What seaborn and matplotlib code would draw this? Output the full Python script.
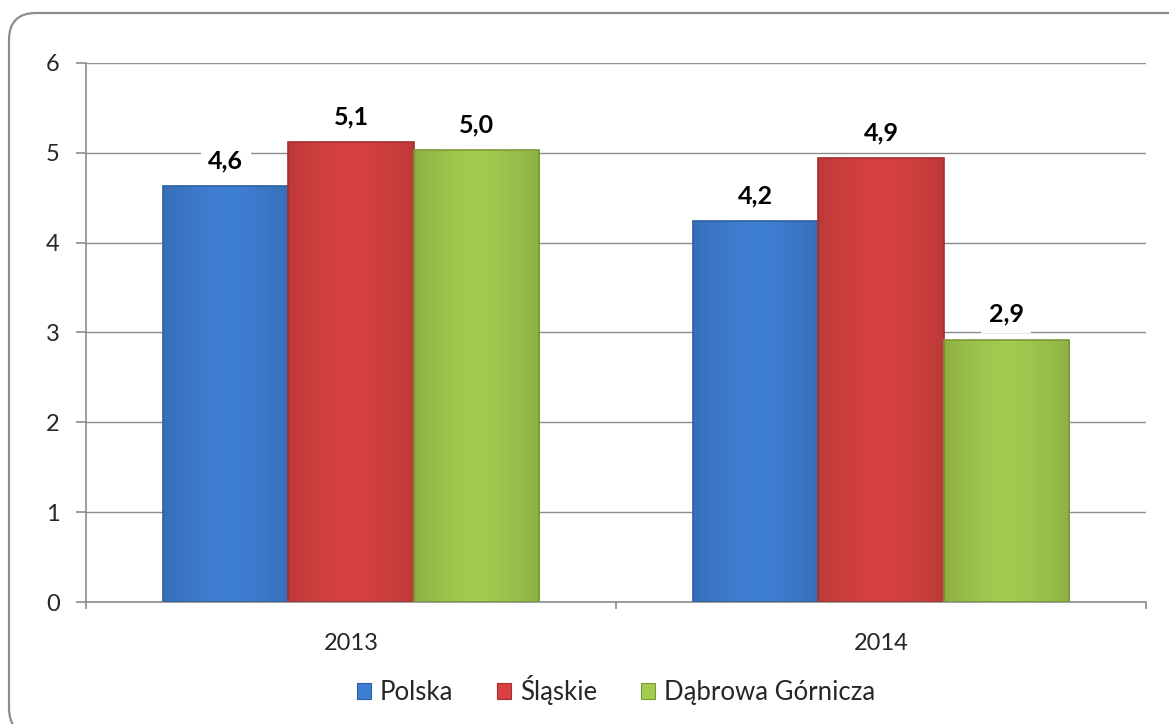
import matplotlib
matplotlib.use("Agg")
import matplotlib.pyplot as plt
import matplotlib.colors as mcolors
from matplotlib.patches import FancyBboxPatch
from matplotlib.ticker import FixedLocator
import numpy as np
import pandas as pd
import seaborn as sns

years = ["2013", "2014"]
regions = ["Polska", "Śląskie", "Dąbrowa Górnicza"]
polska = [4.63, 4.24]
slaskie = [5.12, 4.94]
dabrowa = [5.03, 2.92]
colors = ["#3f7fd3", "#d94141", "#a3cb4f"]
edge_colors = ["#2c5f9e", "#a42f2f", "#7a9a36"]

df = pd.DataFrame({
    "Rok": years * 3,
    "Obszar": [r for r in regions for _ in years],
    "Wartość": polska + slaskie + dabrowa,
})

sns.set_theme(style="white")
plt.rcParams["font.family"] = ["Lato", "DejaVu Sans"]

fig = plt.figure(figsize=(11.69, 7.24), dpi=100)
ax = fig.add_axes([0.0736, 0.1685, 0.9067, 0.7445])

sns.barplot(data=df, x="Rok", y="Wartość", hue="Obszar", hue_order=regions,
            palette=colors, width=0.71, gap=0, ax=ax, legend=True,
            edgecolor="none", linewidth=0, saturation=1)

# bevel-like shading over each bar
for container, base, edge in zip(ax.containers, colors, edge_colors):
    for patch in container:
        x, w, h = patch.get_x(), patch.get_width(), patch.get_height()
        c = np.array(mcolors.to_rgb(base))
        xs = np.linspace(0, 1, 60)
        shade = 1.0 - 0.18 * np.abs(xs - 0.5) ** 1.5 * 2
        img = np.clip(c[None, None, :] * shade[None, :, None], 0, 1)
        img = np.repeat(img, 2, axis=0)
        im = ax.imshow(img, extent=[x, x + w, 0, h], aspect="auto",
                       zorder=patch.get_zorder() + 0.1, interpolation="bilinear")
        im.set_clip_path(patch)
        patch.set_facecolor("none")
        patch.set_edgecolor("none")
        ax.add_patch(plt.Rectangle((x, 0), w, h, facecolor="none",
                                   edgecolor=edge, linewidth=1.2, zorder=3))
    labels = [f"{v:.1f}".replace(".", ",") for v in container.datavalues]
    ax.bar_label(container, labels=labels, padding=10, fontsize=18,
                 fontweight="bold", color="black",
                 bbox=dict(boxstyle="square,pad=0.3", facecolor="white",
                           edgecolor="none"), zorder=4)

ax.set_xlim(-0.5, 1.5)
ax.set_ylim(0, 6)
ax.set_yticks(range(0, 7))
ax.yaxis.grid(True, color="#8c8c8c", linewidth=1)
ax.set_axisbelow(True)
ax.set_xlabel("")
ax.set_ylabel("")
for side in ["top", "right"]:
    ax.spines[side].set_visible(False)
for side in ["left", "bottom"]:
    ax.spines[side].set_color("#8c8c8c")
    ax.spines[side].set_linewidth(1.2)

ax.tick_params(axis="y", which="major", direction="out", length=7, width=1.2,
               color="#8c8c8c", labelsize=17, pad=12, left=True)
ax.tick_params(axis="x", which="major", length=0, labelsize=17, pad=22)
ax.xaxis.set_minor_locator(FixedLocator([-0.5, 0.5, 1.5]))
ax.tick_params(axis="x", which="minor", direction="out", length=5, width=1.2,
               color="#8c8c8c", bottom=True)

handles, labels = ax.get_legend_handles_labels()
for hnd, edge in zip(handles, edge_colors):
    hnd.set_edgecolor(edge)
    hnd.set_linewidth(0.8)
ax.legend(handles, labels, loc="center",
          bbox_to_anchor=(0.5, (0.047 - 0.1685) / 0.7445),
          ncol=3, frameon=False, fontsize=18.5,
          handlelength=0.55, handleheight=0.55, handletextpad=0.35,
          columnspacing=1.7)

# rounded outer frame, in inches so the corners stay circular
frame = FancyBboxPatch((0.09, -0.11), 11.90, 7.24 - 0.13 + 0.11,
                       boxstyle="round,pad=0,rounding_size=0.27",
                       transform=fig.dpi_scale_trans, facecolor="none",
                       edgecolor="#8c8c8c", linewidth=1.6)
fig.patches.append(frame)

fig.savefig("out.png", dpi=100)
